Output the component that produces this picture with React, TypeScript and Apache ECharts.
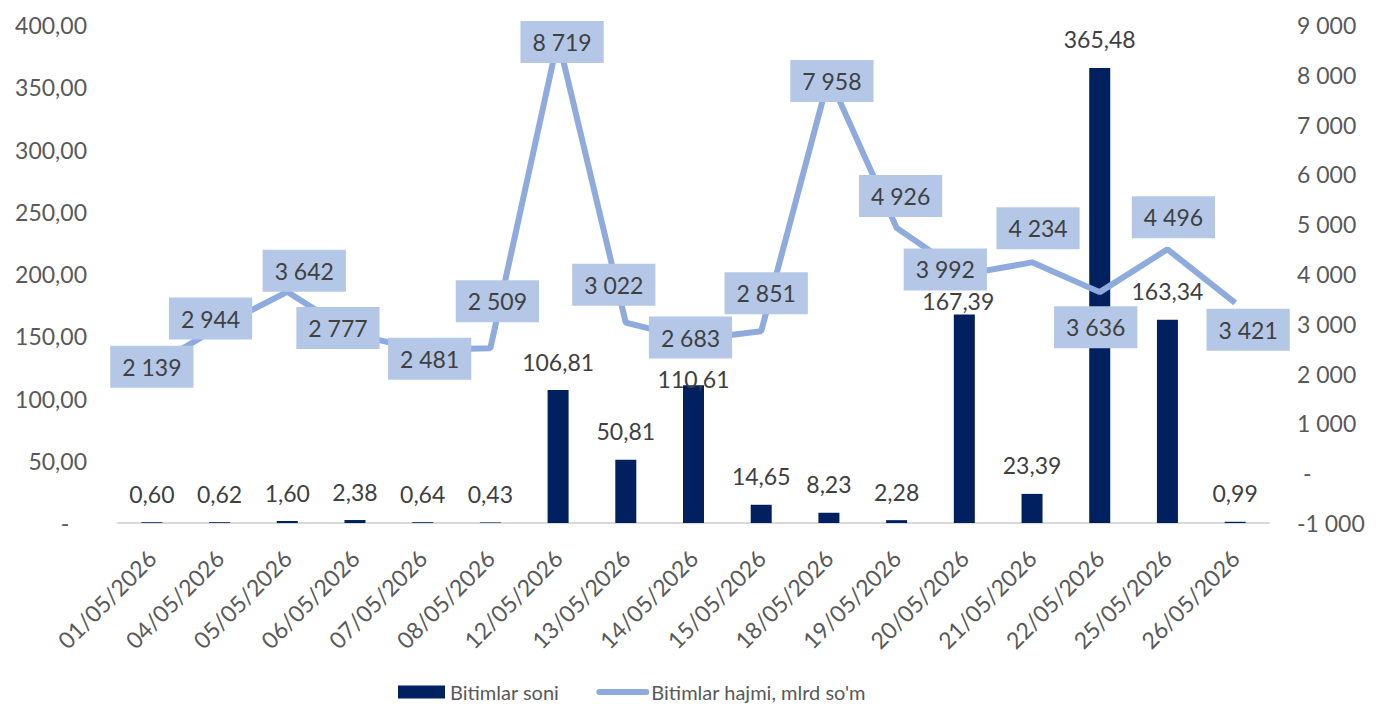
import React, { useEffect, useRef } from "react";
import * as echarts from "echarts";

const categories = [
  "01/05/2026", "04/05/2026", "05/05/2026", "06/05/2026", "07/05/2026", "08/05/2026",
  "12/05/2026", "13/05/2026", "14/05/2026", "15/05/2026", "18/05/2026", "19/05/2026",
  "20/05/2026", "21/05/2026", "22/05/2026", "25/05/2026", "26/05/2026",
];
const dealCounts = [0.6, 0.62, 1.6, 2.38, 0.64, 0.43, 106.81, 50.81, 110.61, 14.65, 8.23, 2.28, 167.39, 23.39, 365.48, 163.34, 0.99];
const dealVolumes = [2139, 2944, 3642, 2777, 2481, 2509, 8719, 3022, 2683, 2851, 7958, 4926, 3992, 4234, 3636, 4496, 3421];

const seriesNames = ["Bitimlar soni", "Bitimlar hajmi, mlrd so'm"];

// label placement (styling only)
const volumeLabelOffsets = [
  [0, 0], [-9, -8], [17, -21], [-17, -7], [7, 9], [7, -47], [4, 3], [-12, -38], [-3, -2],
  [5, -38], [3, 4], [4, -32], [-19, -5], [6, -34], [-4, 35], [6, -32], [13, 27],
];
const countLabelOffsets = [
  [0, 0], [0, 0], [0, 0], [0, 0], [0, 0], [0, 0], [0, 0], [0, 0], [0, 22],
  [0, 0], [0, 0], [0, 0], [-6, 15], [0, 0], [0, 0], [0, 0], [0, 0],
];

const FONT = "Lato";
const groupThousands = (n: number) =>
  Math.abs(Math.round(n)).toString().replace(/\B(?=(\d{3})+(?!\d))/g, "\u00a0");

export default function App() {
  const ref = useRef<HTMLDivElement>(null);
  useEffect(() => {
    if (!ref.current) return;
    const chart = echarts.init(ref.current, undefined, { renderer: "svg" });
    chart.setOption({
      animation: false,
      backgroundColor: "#ffffff",
      textStyle: { fontFamily: FONT },
      grid: { left: 118, right: 111, top: 25, bottom: 181 },
      legend: {
        left: 393,
        top: 677,
        itemWidth: 47,
        itemHeight: 13,
        itemGap: 37,
        textStyle: { fontFamily: FONT, fontSize: 20, color: "#595959" },
        data: [
          { name: seriesNames[0], icon: "rect" },
          {
            name: seriesNames[1],
            itemStyle: { color: "rgba(0,0,0,0)", borderWidth: 0, opacity: 0 },
            lineStyle: { color: "#8faadc", width: 6, cap: "round" },
          },
        ],
      },
      xAxis: {
        type: "category",
        data: categories,
        axisLine: { lineStyle: { color: "#d9d9d9", width: 2 } },
        axisTick: { show: false },
        axisLabel: {
          rotate: 45,
          margin: 31,
          interval: 0,
          fontFamily: FONT,
          fontSize: 23,
          color: "#595959",
        },
      },
      yAxis: [
        {
          type: "value",
          min: 0,
          max: 400,
          interval: 50,
          splitLine: { show: false },
          axisLine: { show: false },
          axisTick: { show: false },
          axisLabel: {
            margin: 31,
            fontFamily: FONT,
            fontSize: 23,
            color: "#595959",
            formatter: (v: number) =>
              v === 0 ? "-\u00a0\u00a0\u00a0" : v.toFixed(2).replace(".", ","),
          },
        },
        {
          type: "value",
          min: -1000,
          max: 9000,
          interval: 1000,
          splitLine: { show: false },
          axisLine: { show: false },
          axisTick: { show: false },
          axisLabel: {
            margin: 28,
            fontFamily: FONT,
            fontSize: 23,
            color: "#595959",
            formatter: (v: number) =>
              v === 0 ? "\u00a0-" : (v < 0 ? "-" : "") + groupThousands(v),
          },
        },
      ],
      series: [
        {
          name: seriesNames[0],
          type: "bar",
          yAxisIndex: 0,
          barWidth: 21,
          itemStyle: { color: "#002060" },
          data: dealCounts.map((v, i) => ({
            value: v,
            label: { offset: countLabelOffsets[i] },
          })),
          label: {
            show: true,
            position: "top",
            distance: 17,
            fontFamily: FONT,
            fontSize: 23,
            color: "#404040",
            formatter: (p: any) => Number(p.value).toFixed(2).replace(".", ","),
          },
        },
        {
          name: seriesNames[1],
          type: "line",
          yAxisIndex: 1,
          symbol: "circle",
          symbolSize: 1,
          color: "#8faadc",
          lineStyle: { color: "#8faadc", width: 6 },
          itemStyle: { color: "#8faadc" },
          data: dealVolumes.map((v, i) => ({
            value: v,
            label: { offset: volumeLabelOffsets[i] },
          })),
          label: {
            show: true,
            position: "inside",
            fontFamily: FONT,
            fontSize: 23,
            lineHeight: 24,
            color: "#404040",
            backgroundColor: "#b4c7e7",
            padding: [9, 12],
            formatter: (p: any) => groupThousands(Number(p.value)),
          },
        },
      ],
    });
    return () => chart.dispose();
  }, []);
  return (
    <div
      ref={ref}
      style={{ position: "fixed", left: 0, top: 0, width: 1380, height: 704 }}
    />
  );
}
